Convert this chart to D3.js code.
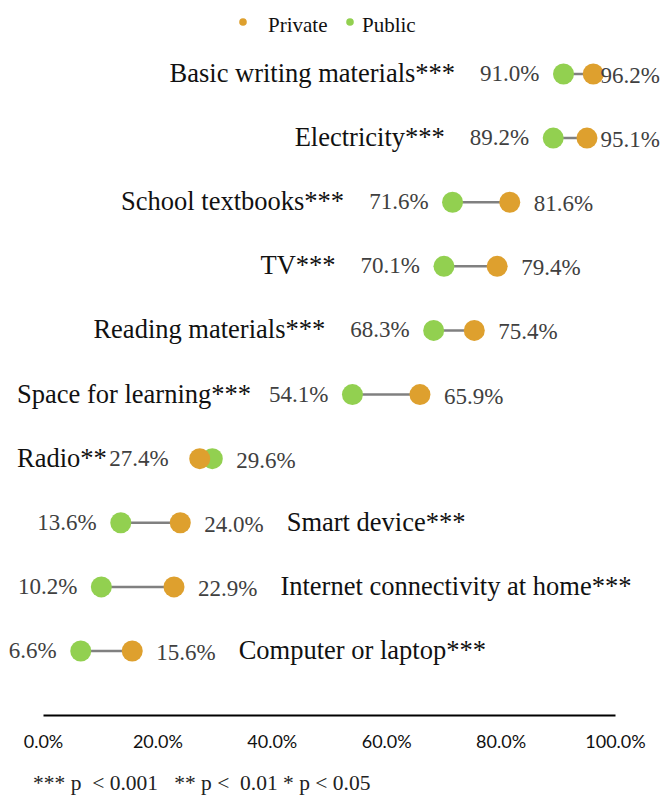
<!DOCTYPE html>
<html>
<head>
<meta charset="utf-8">
<script src="https://cdn.jsdelivr.net/npm/d3@7"></script>
<style>
  html, body { margin: 0; padding: 0; background: #fff; }
  svg { display: block; }
</style>
</head>
<body>
<svg id="chart" width="664" height="796"></svg>
<script>
// ---- data ----
const categories = [
  "Basic writing materials***",
  "Electricity***",
  "School textbooks***",
  "TV***",
  "Reading materials***",
  "Space for learning***",
  "Radio**",
  "Smart device***",
  "Internet connectivity at home***",
  "Computer or laptop***"
];
const publicValues  = [91.0, 89.2, 71.6, 70.1, 68.3, 54.1, 29.6, 13.6, 10.2, 6.6];
const privateValues = [96.2, 95.1, 81.6, 79.4, 75.4, 65.9, 27.4, 24.0, 22.9, 15.6];
const seriesNames = ["Private", "Public"];
const xTicks = [0, 20, 40, 60, 80, 100];
const footnote = "*** p  < 0.001   ** p <  0.01 * p < 0.05";

// ---- styles ----
const colors = { Private: "#DEA02E", Public: "#92D050" };
const serif = "'Liberation Serif', 'Times New Roman', serif";
const W = 664, H = 796;
const R = 10.5;

const svg = d3.select("#chart");

const x = d3.scaleLinear().domain([0, 100]).range([43, 615]);
const y = d3.scalePoint().domain(categories).range([74, 651]);

const rows = categories.map((c, i) => ({
  cat: c,
  pub: publicValues[i],
  priv: privateValues[i]
}));

// axis
const axis = d3.axisBottom(x)
  .tickValues(xTicks)
  .tickSize(0)
  .tickSizeOuter(0)
  .tickPadding(20)
  .tickFormat(d => d.toFixed(1) + "%");
const gAxis = svg.append("g").attr("transform", "translate(0,715)").call(axis);
gAxis.select(".domain").attr("stroke", "#000").attr("stroke-width", 2);
gAxis.selectAll("text")
  .attr("font-family", "Lato, 'Liberation Sans', sans-serif")
  .attr("font-size", 18)
  .attr("fill", "#111");

// connector lines
svg.append("g").selectAll("line").data(rows).join("line")
  .attr("x1", d => x(Math.min(d.pub, d.priv)))
  .attr("x2", d => x(Math.max(d.pub, d.priv)))
  .attr("y1", d => y(d.cat))
  .attr("y2", d => y(d.cat))
  .attr("stroke", "#808080")
  .attr("stroke-width", 2.5);

// dots: public first, private on top
svg.append("g").selectAll("circle").data(rows).join("circle")
  .attr("cx", d => x(d.pub)).attr("cy", d => y(d.cat)).attr("r", R)
  .attr("fill", colors.Public);
svg.append("g").selectAll("circle").data(rows).join("circle")
  .attr("cx", d => x(d.priv)).attr("cy", d => y(d.cat)).attr("r", R)
  .attr("fill", colors.Private);

// value labels + category labels
const labels = svg.append("g");
rows.forEach(d => {
  const cy = y(d.cat);
  const lo = Math.min(d.pub, d.priv), hi = Math.max(d.pub, d.priv);
  const leftGap = (d.pub > d.priv) ? 31 : 24;
  const lt = labels.append("text")
    .attr("x", x(lo) - leftGap).attr("y", cy + 7)
    .attr("text-anchor", "end")
    .attr("font-family", serif).attr("font-size", 23).attr("fill", "#404040")
    .text(lo.toFixed(1) + "%");
  const lw = lt.node().getComputedTextLength();
  const leftStart = x(lo) - leftGap - lw;

  const rt = labels.append("text")
    .attr("y", cy + 9)
    .attr("font-family", serif).attr("font-size", 23).attr("fill", "#404040")
    .text(hi.toFixed(1) + "%");
  const rw = rt.node().getComputedTextLength();
  const rx = Math.min(x(hi) + 24, W - 4 - rw);
  rt.attr("x", rx);
  const rightEnd = rx + rw;

  const ct = labels.append("text")
    .attr("y", cy + 8)
    .attr("font-family", serif).attr("font-size", 26.5).attr("fill", "#111")
    .text(d.cat);
  const cw = ct.node().getComputedTextLength();
  const desired = leftStart - 25 - cw;
  if (desired >= -30) {
    ct.attr("x", Math.max(desired, 17));
  } else {
    ct.attr("x", rightEnd + 23);
  }
});

// legend
const legendPos = [{ cx: 243, tx: 268 }, { cx: 350, tx: 362 }];
const lg = svg.append("g");
seriesNames.forEach((s, i) => {
  lg.append("circle").attr("cx", legendPos[i].cx).attr("cy", 22).attr("r", 3.8).attr("fill", colors[s]);
  lg.append("text").attr("x", legendPos[i].tx).attr("y", 32)
    .attr("font-family", serif).attr("font-size", 21).attr("fill", "#111")
    .text(s);
});

// footnote
svg.append("text")
  .attr("x", 33).attr("y", 790)
  .attr("font-family", serif).attr("font-size", 21.5).attr("fill", "#222")
  .style("white-space", "pre")
  .text(footnote);
</script>
</body>
</html>
